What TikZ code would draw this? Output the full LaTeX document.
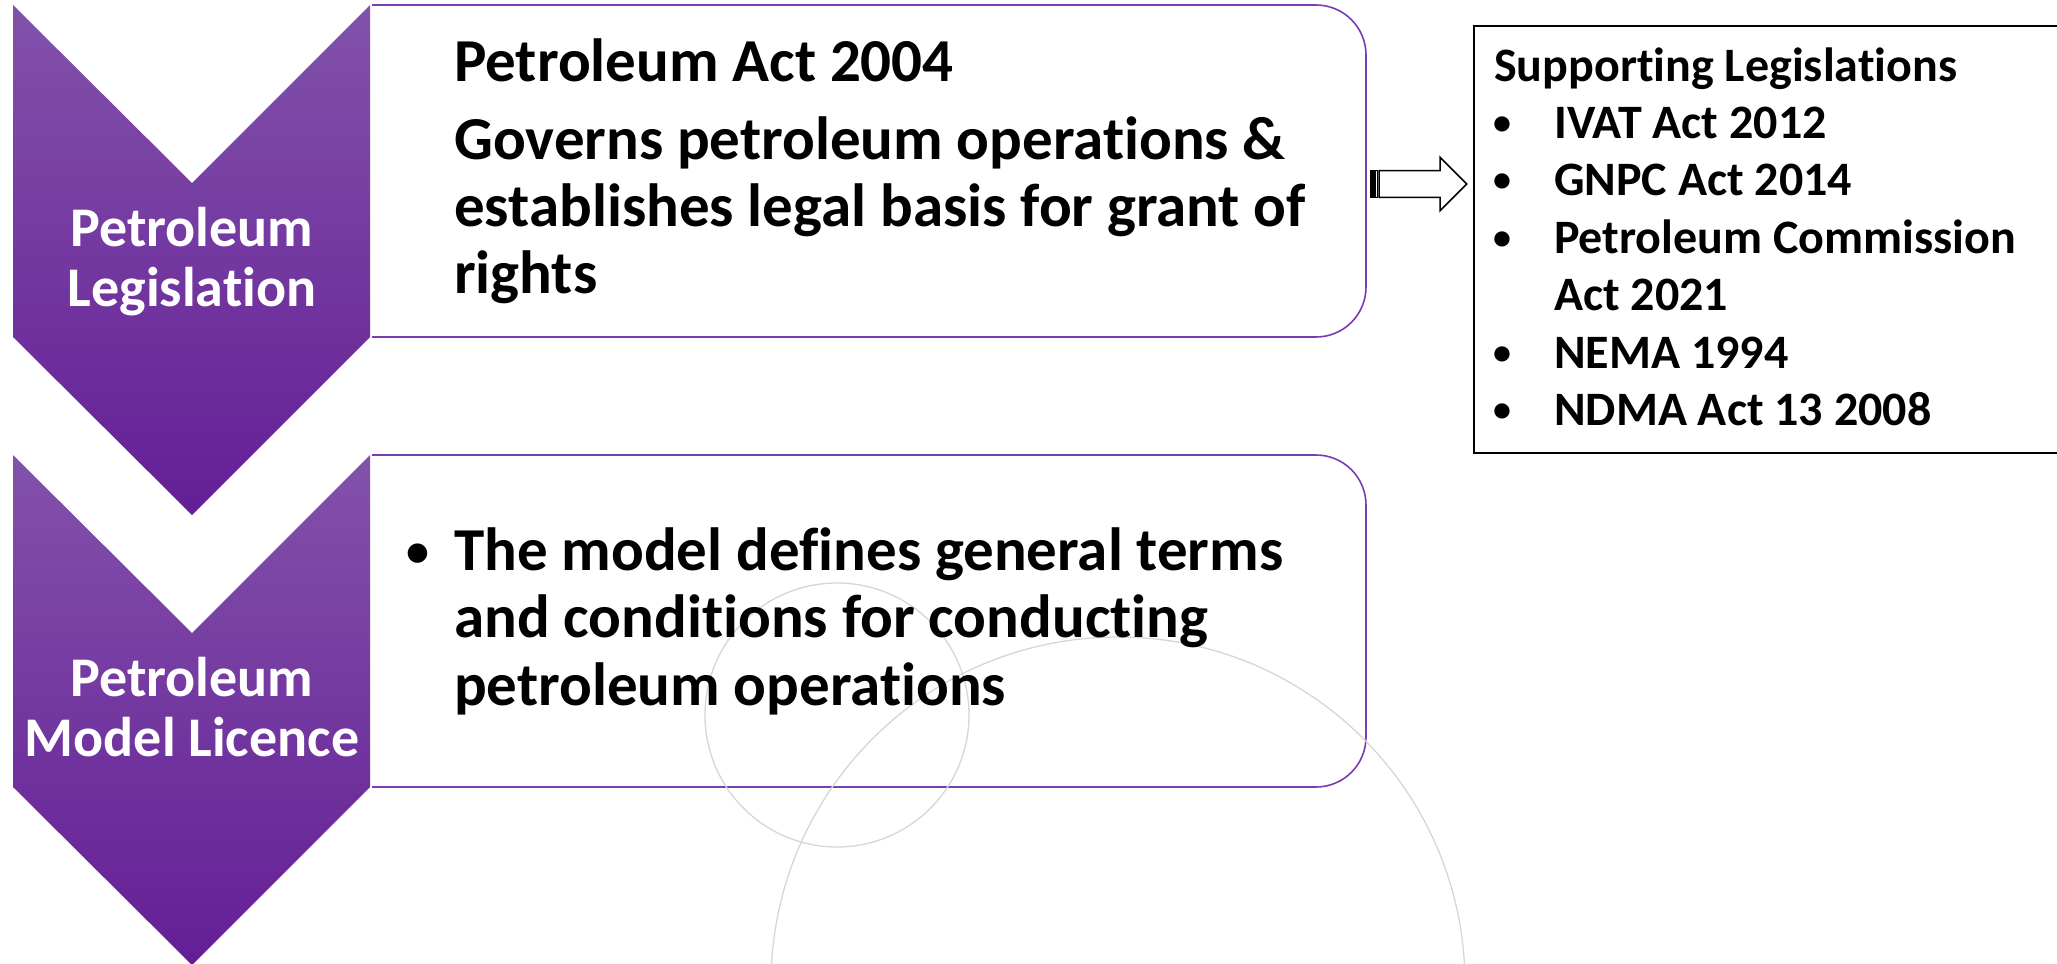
\documentclass[tikz,border=0pt]{standalone}
\usepackage{fontspec}
\setmainfont{Carlito}[Ligatures={NoCommon}, RawFeature={-liga;-dlig;-calt}]
\usetikzlibrary{calc}
\definecolor{chevtop}{RGB}{130,82,170}
\definecolor{chevbot}{RGB}{100,30,150}
\definecolor{boxpurple}{RGB}{120,60,180}
\definecolor{circgray}{RGB}{214,214,214}
\tikzset{
  chev/.style={top color=chevtop, bottom color=chevbot, draw=none},
  rbox/.style={draw=boxpurple, line width=1.6pt, fill=white, rounded corners=50pt},
  chevlabel/.style={text=white, font=\fontsize{56}{62}\selectfont\bfseries, inner sep=0pt, anchor=base},
  maintext/.style={text=black, font=\fontsize{61}{68}\selectfont\bfseries, inner sep=0pt, anchor=base west},
  mainbullet/.style={text=black, font=\fontsize{46}{52}\selectfont\bfseries, inner sep=0pt, anchor=base},
  sidetext/.style={text=black, font=\fontsize{48}{56}\selectfont\bfseries, inner sep=0pt, anchor=base west},
  sidebullet/.style={text=black, font=\fontsize{36}{42}\selectfont\bfseries, inner sep=0pt, anchor=base},
  bgcirc/.style={draw=circgray, line width=1.3pt},
}
\begin{document}
\begin{tikzpicture}[x=1pt,y=-1pt]
\useasboundingbox (0,0) rectangle (2057,964);
% rounded content boxes
\draw[rbox] (372,5) -- (1366,5) -- (1366,337) -- (372,337);
\draw[rbox] (372,455) -- (1366,455) -- (1366,787) -- (372,787);
% background circles
\draw[bgcirc] (837,715) circle[radius=132pt];
\draw[bgcirc] (1118,984) circle[radius=347pt];
% chevrons
\path[chev] (13,5) -- (192,183) -- (370,5) -- (370,337) -- (192,515) -- (13,337) -- cycle;
\path[chev] (13,455) -- (192,633) -- (370,455) -- (370,787) -- (192,965) -- (13,787) -- cycle;
% chevron labels
\node[chevlabel] (c1a) at (192,246) {Petroleum};
\node[chevlabel] (c1b) at (192,306) {Legislation};
\node[chevlabel] (c2a) at (192,696) {Petroleum};
\node[chevlabel] (c2b) at (192,756) {Model Licence};
% box 1 text
\node[maintext] (t1) at (454,81.5) {Petroleum Act 2004};
\node[maintext] (t2) at (454,159) {Governs petroleum operations \&};
\node[maintext] (t3) at (454,226) {establishes legal basis for grant of};
\node[maintext] (t4) at (454,293) {rights};
% box 2 text
\node[mainbullet] (b0) at (418,566) {•};
\node[maintext] (b1) at (454,570) {The model defines general terms};
\node[maintext] (b2) at (454,637) {and conditions for conducting};
\node[maintext] (b3) at (454,705) {petroleum operations};
% supporting legislations box
\draw[black, line width=2pt] (2065,26) -- (1474,26) -- (1474,453) -- (2065,453);
\node[sidetext] (sh) at (1494,81.7) {Supporting Legislations};
\node[sidebullet] (sb1) at (1502,134) {•};
\node[sidetext] (s1) at (1554,138) {IVAT Act 2012};
\node[sidebullet] (sb2) at (1502,191.5) {•};
\node[sidetext] (s2) at (1554,195.5) {GNPC Act 2014};
\node[sidebullet] (sb3) at (1502,249) {•};
\node[sidetext] (s3) at (1554,253) {Petroleum Commission};
\node[sidetext] (s3b) at (1554,310.5) {Act 2021};
\node[sidebullet] (sb4) at (1502,364) {•};
\node[sidetext] (s4) at (1554,368) {NEMA 1994};
\node[sidebullet] (sb5) at (1502,421.5) {•};
\node[sidetext] (s5) at (1554,425.5) {NDMA Act 13 2008};
% striped block arrow
\coordinate (arrS) at (1379,184);
\coordinate (arrE) at (1466.7,184);
\fill[black] ($(arrS)+(-8,-13.3)$) rectangle ($(arrS)+(-5,13.3)$);
\draw[black, line width=1.2pt] ($(arrS)+(-8,-13.3)$) rectangle ($(arrS)+(-5,13.3)$);
\draw[black, line width=1.2pt] ($(arrS)+(-3.2,-13.3)$) rectangle ($(arrS)+(-1.8,13.3)$);
\draw[black, line width=1.5pt, fill=white, line join=miter]
  ($(arrS)+(0,-13.3)$) -- ($(arrE)+(-26.7,-13.3)$) -- ($(arrE)+(-26.7,-26.8)$) -- (arrE)
  -- ($(arrE)+(-26.7,26.8)$) -- ($(arrE)+(-26.7,13.3)$) -- ($(arrS)+(0,13.3)$) -- cycle;
\end{tikzpicture}
\end{document}
